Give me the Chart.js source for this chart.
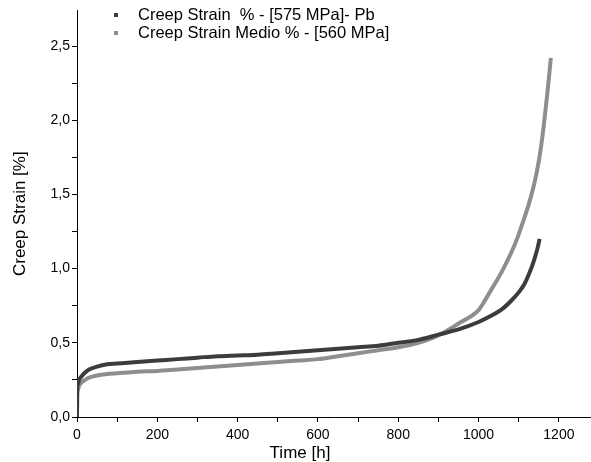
<!DOCTYPE html>
<html>
<head>
<meta charset="utf-8">
<script src="https://cdn.jsdelivr.net/npm/chart.js@4"></script>
<style>
  html, body { margin: 0; padding: 0; background: #fff; }
  #wrap { width: 591px; height: 462px; }
</style>
</head>
<body>
<div id="wrap"><canvas id="creep-chart"></canvas></div>
<script>
// Dados (tempo em h, deformação em %)
const tempo575 = [0, 0.5, 2, 5, 10, 20, 30, 50, 75, 100, 150, 200, 250, 300, 350, 400, 450, 500, 550, 600,
    650, 700, 750, 800, 850, 900, 950, 1000, 1030, 1060, 1080, 1100, 1115, 1125, 1135, 1142, 1148, 1152];
const strain575 = [0, 0.19, 0.22, 0.25, 0.27, 0.30, 0.32, 0.34, 0.355, 0.36, 0.37, 0.38, 0.39, 0.40, 0.41, 0.415, 0.42, 0.43, 0.44, 0.45,
    0.46, 0.47, 0.48, 0.50, 0.52, 0.555, 0.59, 0.64, 0.68, 0.73, 0.78, 0.84, 0.90, 0.96, 1.03, 1.09, 1.15, 1.20];

const tempo560 = [0, 0.5, 2, 5, 10, 20, 30, 50, 75, 100, 150, 200, 250, 300, 350, 400, 450, 500, 550, 600,
    650, 700, 750, 800, 850, 900, 950, 1000, 1010, 1030, 1060, 1090, 1110, 1130, 1145, 1155, 1163, 1170, 1175, 1180];
const strain560 = [0, 0.15, 0.18, 0.21, 0.23, 0.25, 0.265, 0.28, 0.29, 0.295, 0.305, 0.31, 0.32, 0.33, 0.34, 0.35, 0.36, 0.37, 0.38, 0.39,
    0.41, 0.43, 0.45, 0.47, 0.50, 0.55, 0.63, 0.72, 0.76, 0.85, 0.99, 1.16, 1.31, 1.48, 1.65, 1.81, 1.98, 2.15, 2.28, 2.42];

const nomes = ['Creep Strain  % - [575 MPa]- Pb', 'Creep Strain Medio % - [560 MPa]'];
const cores = ['#3c3c3c', '#8e8e8e'];

// Ticks (maiores com rótulo, menores sem)
const xTicks = [0, 100, 200, 300, 400, 500, 600, 700, 800, 900, 1000, 1100, 1200];
const yTicks = [0, 0.25, 0.5, 0.75, 1.0, 1.25, 1.5, 1.75, 2.0, 2.25, 2.5];

const fonte = '"Liberation Sans", Arial, sans-serif';

function pontos(xs, ys) {
    return xs.map((x, i) => ({ x: x, y: ys[i] }));
}

// Legenda dentro da área do gráfico e título do eixo X
const textosExtras = {
    id: 'textosExtras',
    afterDraw(chart) {
        const ctx = chart.ctx;
        ctx.save();
        ctx.font = '16.5px ' + fonte;
        ctx.textBaseline = 'middle';
        nomes.forEach((nome, i) => {
            const y = 15 + i * 18;
            ctx.fillStyle = cores[i];
            ctx.fillRect(114, y - 2, 4, 4);
            ctx.fillStyle = '#000';
            ctx.fillText(nome, 138, y);
        });
        ctx.font = '17px ' + fonte;
        ctx.textAlign = 'center';
        ctx.fillText('Time [h]', 300, 453);
        ctx.restore();
    }
};

new Chart(document.getElementById('creep-chart'), {
    type: 'scatter',
    data: {
        datasets: [
            { label: nomes[0], data: pontos(tempo575, strain575), borderColor: cores[0], backgroundColor: cores[0] },
            { label: nomes[1], data: pontos(tempo560, strain560), borderColor: cores[1], backgroundColor: cores[1] }
        ].map(d => Object.assign(d, {
            showLine: true,
            pointRadius: 0,
            borderWidth: 4,
            cubicInterpolationMode: 'monotone'
        }))
    },
    options: {
        responsive: true,
        maintainAspectRatio: false,
        animation: false,
        layout: { padding: { top: 7, right: 0, left: 0, bottom: 0 } },
        plugins: {
            legend: { display: false },
            tooltip: { enabled: false }
        },
        scales: {
            x: {
                type: 'linear',
                min: 0,
                max: 1280,
                afterBuildTicks: s => { s.ticks = xTicks.map(v => ({ value: v })); },
                afterFit: s => { s.height = 45; },
                border: { color: '#000', width: 1 },
                grid: { drawOnChartArea: false, tickLength: 5, color: '#000' },
                ticks: {
                    autoSkip: false,
                    maxRotation: 0,
                    padding: 5,
                    color: '#000',
                    font: { family: fonte, size: 14 },
                    callback: v => (v % 200 === 0 ? String(v) : '')
                },
                title: { display: false }
            },
            y: {
                type: 'linear',
                min: 0,
                max: 2.74,
                afterBuildTicks: s => { s.ticks = yTicks.map(v => ({ value: v })); },
                afterFit: s => { s.width = 77; },
                border: { color: '#000', width: 1 },
                grid: { drawOnChartArea: false, tickLength: 5, color: '#000' },
                ticks: {
                    autoSkip: false,
                    padding: 2,
                    color: '#000',
                    font: { family: fonte, size: 14 },
                    callback: v => (Math.round(v * 100) % 50 === 0 ? v.toFixed(1).replace('.', ',') : '')
                },
                title: {
                    display: true,
                    text: 'Creep Strain [%]',
                    color: '#000',
                    font: { family: fonte, size: 17 },
                    padding: { top: 10, bottom: 0 }
                }
            }
        }
    },
    plugins: [textosExtras]
});
</script>
</body>
</html>
